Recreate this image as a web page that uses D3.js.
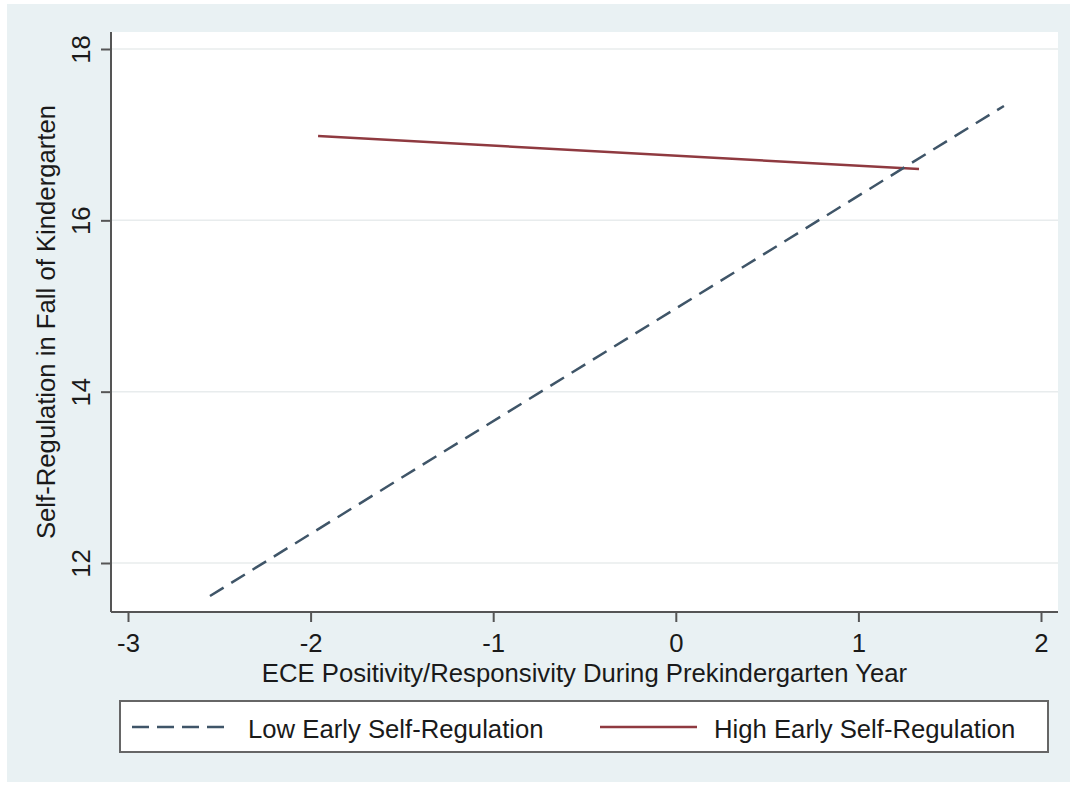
<!DOCTYPE html>
<html><head><meta charset="utf-8">
<script src="https://cdn.jsdelivr.net/npm/d3@7"></script>
<style>html,body{margin:0;padding:0;background:#fff;}svg{display:block;}</style>
</head><body>
<svg id="chart" width="1077" height="786"></svg>
<script>
// ---- data ----
const xTicks = [-3, -2, -1, 0, 1, 2];
const yTicks = [12, 14, 16, 18];
const lowX = [-2.551, 1.797];
const lowY = [11.615, 17.335];
const highX = [-1.959, 1.332];
const highY = [16.984, 16.599];
const seriesNames = ["Low Early Self-Regulation", "High Early Self-Regulation"];
const xTitle = "ECE Positivity/Responsivity During Prekindergarten Year";
const yTitle = "Self-Regulation in Fall of Kindergarten";

const FONT = "'Liberation Sans', Arial, Helvetica, sans-serif";
const FS = 25.7;
const TXT = "#1a1a1a";
const svg = d3.select("#chart");

// outer graph region
svg.append("rect").attr("x", 7).attr("y", 4).attr("width", 1063).attr("height", 778).attr("fill", "#e9f1f3");

const L = 111, R = 1058, T = 32, B = 612;
const x = d3.scaleLinear().domain([-3, 2]).range([128, 1041]);
const y = d3.scaleLinear().domain([12, 18]).range([563, 49]);

// plot region
svg.append("rect").attr("x", L).attr("y", T).attr("width", R - L).attr("height", B - T).attr("fill", "#ffffff");

// grid lines
svg.append("g").selectAll("line").data(yTicks).join("line")
  .attr("x1", L).attr("x2", R).attr("y1", d => y(d)).attr("y2", d => y(d))
  .attr("stroke", "#e8eced").attr("stroke-width", 1.5);

// x axis
const xAxis = svg.append("g").attr("transform", `translate(0,${B})`)
  .call(d3.axisBottom(x).tickValues(xTicks).tickSize(10).tickSizeOuter(0).tickFormat(d3.format("d")));
xAxis.select(".domain").attr("d", `M${L},0H${R}`).attr("stroke", "#555").attr("stroke-width", 2);
xAxis.selectAll(".tick line").attr("stroke", "#555").attr("stroke-width", 2);
xAxis.selectAll(".tick text").attr("y", 40).attr("dy", 0).attr("font-family", FONT).attr("font-size", FS).attr("fill", TXT)
  .text(d => d < 0 ? "-" + Math.abs(d) : d);

// y axis
const yAxis = svg.append("g").attr("transform", `translate(${L},0)`)
  .call(d3.axisLeft(y).tickValues(yTicks).tickSize(10).tickSizeOuter(0).tickFormat(d3.format("d")));
yAxis.select(".domain").attr("d", `M0,${T}V${B}`).attr("stroke", "#555").attr("stroke-width", 2);
yAxis.selectAll(".tick line").attr("stroke", "#555").attr("stroke-width", 2);
yAxis.selectAll(".tick text").attr("x", null).attr("dy", null).attr("dx", null)
  .attr("transform", "translate(-21,0) rotate(-90)").attr("text-anchor", "middle")
  .attr("font-family", FONT).attr("font-size", FS).attr("fill", TXT);

// titles
svg.append("text").attr("x", (L + R) / 2).attr("y", 682).attr("text-anchor", "middle")
  .attr("font-family", FONT).attr("font-size", FS).attr("fill", TXT).text(xTitle);
svg.append("text").attr("transform", `translate(55,${(T + B) / 2}) rotate(-90)`).attr("text-anchor", "middle")
  .attr("font-family", FONT).attr("font-size", FS).attr("fill", TXT).text(yTitle);

// lines
const line = d3.line().x(d => x(d[0])).y(d => y(d[1]));
const lowPts = lowX.map((v, i) => [v, lowY[i]]);
const highPts = highX.map((v, i) => [v, highY[i]]);
const lowColor = "#3f5568", highColor = "#8f3a40";
svg.append("path").datum(highPts).attr("d", line).attr("fill", "none")
  .attr("stroke", highColor).attr("stroke-width", 2.5);
svg.append("path").datum(lowPts).attr("d", line).attr("fill", "none")
  .attr("stroke", lowColor).attr("stroke-width", 2.5).attr("stroke-dasharray", "16,9");

// legend
const leg = svg.append("g");
leg.append("rect").attr("x", 120).attr("y", 701).attr("width", 928).attr("height", 51)
  .attr("fill", "#fff").attr("stroke", "#666").attr("stroke-width", 2);
const keys = [
  {name: seriesNames[0], x1: 132, x2: 230, tx: 248, color: lowColor, dash: "17,8"},
  {name: seriesNames[1], x1: 600, x2: 697, tx: 714, color: highColor, dash: null}
];
keys.forEach(k => {
  leg.append("line").attr("x1", k.x1).attr("x2", k.x2).attr("y1", 727).attr("y2", 727)
    .attr("stroke", k.color).attr("stroke-width", 2.5).attr("stroke-dasharray", k.dash);
  leg.append("text").attr("x", k.tx).attr("y", 738).attr("font-family", FONT).attr("font-size", FS)
    .attr("fill", TXT).text(k.name);
});
</script>
</body></html>
